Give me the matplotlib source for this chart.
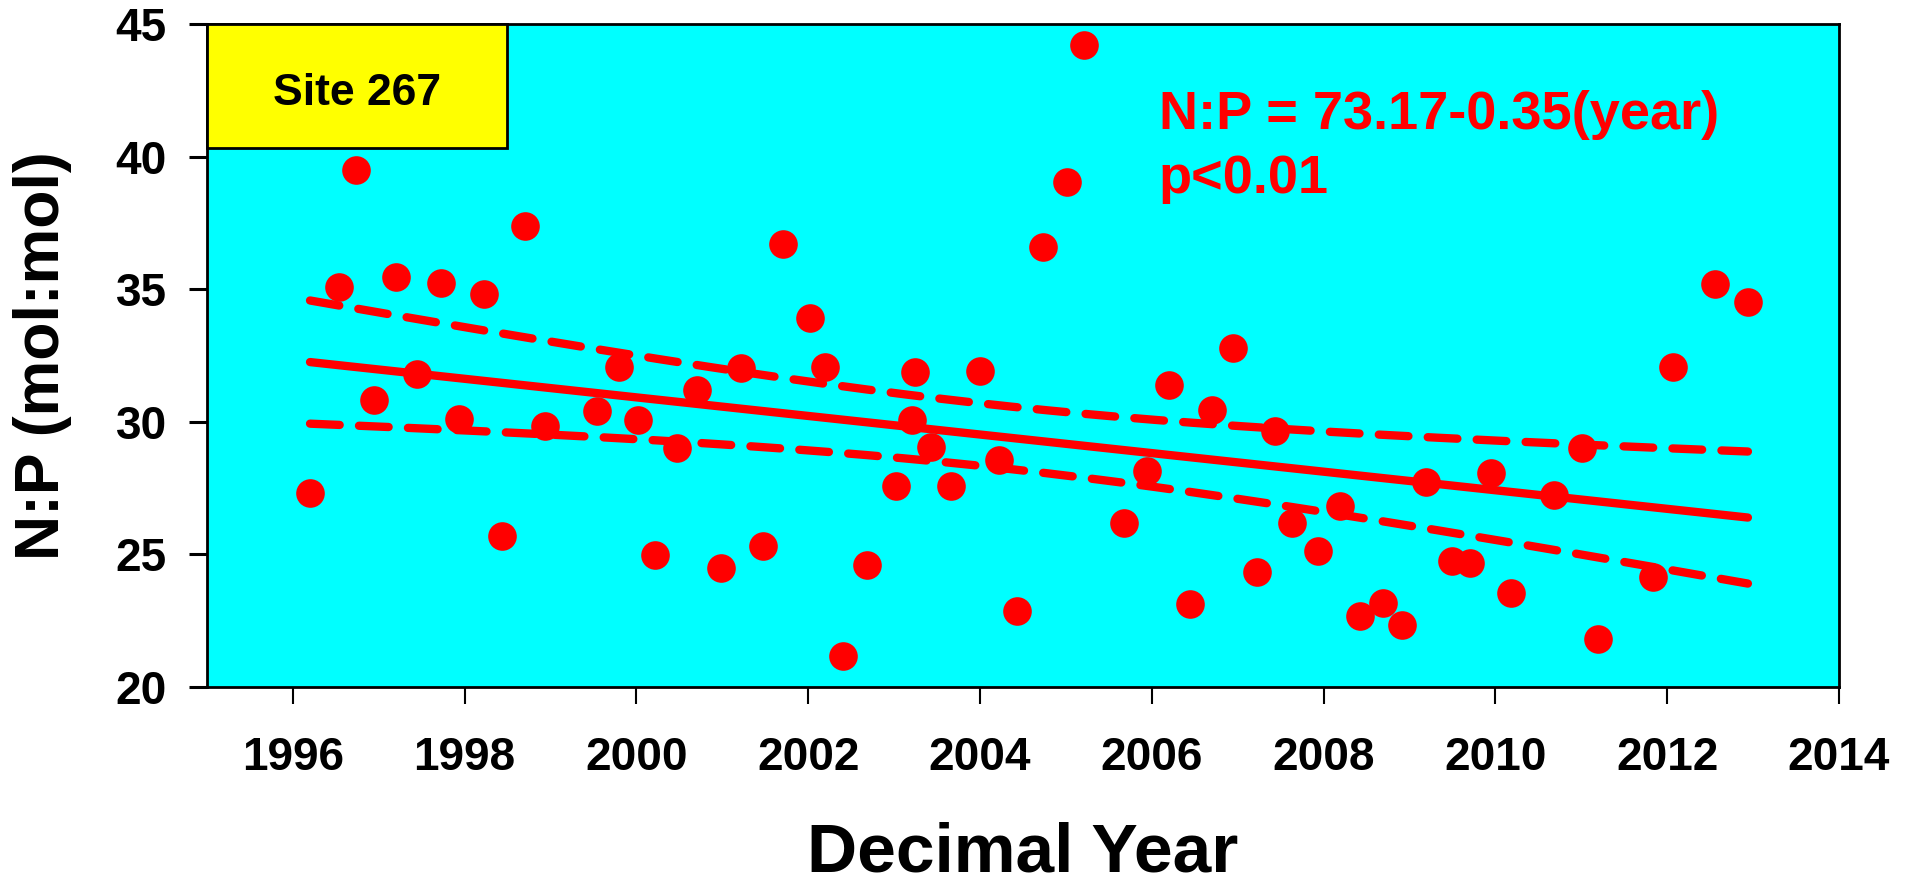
import numpy as np
import matplotlib
matplotlib.use('Agg')
import matplotlib.pyplot as plt
from matplotlib.patches import Rectangle

plt.rcParams['font.family'] = ['Liberation Sans', 'DejaVu Sans']
plt.rcParams['font.weight'] = 'bold'

# N:P ratios, site 267
years = [1996.20, 1996.54, 1996.73, 1996.94, 1997.20, 1997.45, 1997.73, 1997.94,
         1998.22, 1998.44, 1998.70, 1998.93, 1999.54, 1999.80, 2000.02, 2000.22,
         2000.47, 2000.70, 2000.99, 2001.22, 2001.47, 2001.71, 2002.02, 2002.20,
         2002.41, 2002.69, 2003.02, 2003.21, 2003.24, 2003.43, 2003.66, 2004.00,
         2004.22, 2004.43, 2004.73, 2005.01, 2005.21, 2005.68, 2005.94, 2006.20,
         2006.44, 2006.70, 2006.95, 2007.22, 2007.43, 2007.63, 2007.93, 2008.19,
         2008.42, 2008.69, 2008.91, 2009.19, 2009.49, 2009.71, 2009.95, 2010.18,
         2010.68, 2011.01, 2011.20, 2011.83, 2012.07, 2012.56, 2012.94]
np_ratio = [27.33, 35.10, 39.48, 30.81, 35.46, 31.79, 35.22, 30.12,
            34.83, 25.68, 37.38, 29.85, 30.41, 32.06, 30.05, 24.98,
            29.00, 31.18, 24.48, 32.03, 25.32, 36.72, 33.90, 32.08,
            21.18, 24.61, 27.57, 30.08, 31.89, 29.04, 27.58, 31.93,
            28.56, 22.85, 36.60, 39.05, 44.19, 26.18, 28.16, 31.37,
            23.11, 30.44, 32.80, 24.34, 29.65, 26.20, 25.12, 26.84,
            22.67, 23.18, 22.35, 27.72, 24.75, 24.66, 28.07, 23.55,
            27.25, 29.02, 21.81, 24.14, 32.08, 35.19, 34.53]

site = 'Site 267'
eq_text = 'N:P = 73.17-0.35(year)'
p_text = 'p<0.01'
xticks = list(range(1996, 2015, 2))
yticks = [20, 25, 30, 35, 40, 45]

x = np.array(years)
y = np.array(np_ratio)

# linear fit + 95% confidence band
slope, icpt = np.polyfit(x, y, 1)
xf = np.linspace(x.min(), x.max(), 200)
yf = icpt + slope * xf
n = len(x)
resid = y - (icpt + slope * x)
s = np.sqrt(np.sum(resid ** 2) / (n - 2))
sxx = np.sum((x - x.mean()) ** 2)
se = s * np.sqrt(1.0 / n + (xf - x.mean()) ** 2 / sxx)
t = 2.0

fig = plt.figure(figsize=(19.11, 8.88), dpi=100)
ax = fig.add_axes([0.1083, 0.2264, 0.8540, 0.7466])
ax.set_facecolor('#00FFFF')

ax.plot(x, y, 'o', color='#FF0000', ms=20.6, mew=0, zorder=3)
ax.plot(xf, yf, color='#FF0000', lw=6, solid_capstyle='round', zorder=2)
dash = (0, (3.56, 2.32))
ax.plot(xf, yf + t * se, color='#FF0000', lw=6, ls=dash, dash_capstyle='round', zorder=2)
ax.plot(xf, yf - t * se, color='#FF0000', lw=6, ls=dash, dash_capstyle='round', zorder=2)

ax.set_xlim(1995, 2014)
ax.set_ylim(20, 45)
ax.set_xticks(xticks)
ax.set_yticks(yticks)
ax.tick_params(axis='x', direction='out', length=12, width=1.5, pad=23, labelsize=33)
ax.tick_params(axis='y', direction='out', length=13, width=2.2, pad=16, labelsize=33)
for lab in ax.get_xticklabels() + ax.get_yticklabels():
    lab.set_fontweight('bold')
for sp in ax.spines.values():
    sp.set_linewidth(2)

ax.set_xlabel('Decimal Year', fontsize=50, fontweight='bold', va='baseline')
ax.xaxis.set_label_coords(0.5, -0.279)
ax.set_ylabel('N:P (mol:mol)', fontsize=45, fontweight='bold')
ax.yaxis.set_label_coords(-0.083, 0.5)

# site label box
ax.add_patch(Rectangle((1995, 40.32), 3.49, 4.68, facecolor='#FFFF00',
                       edgecolor='black', lw=2, zorder=5, clip_on=False))
ax.text(1995 + 3.49 / 2, 41.95, site, fontsize=32, fontweight='bold',
        ha='center', va='baseline', zorder=6)

ax.text(2006.08, 41.03, eq_text, color='#FF0000', fontsize=39, fontweight='bold',
        ha='left', va='baseline', zorder=6)
ax.text(2006.08, 38.62, p_text, color='#FF0000', fontsize=39, fontweight='bold',
        ha='left', va='baseline', zorder=6)

fig.savefig('out.png', dpi=100)
